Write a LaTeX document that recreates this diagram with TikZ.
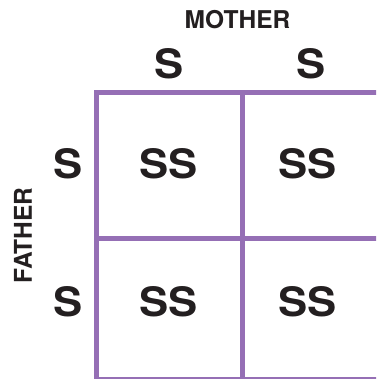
\documentclass[tikz,border=0pt]{standalone}
\usepackage{fontspec}
\setmainfont{TeX Gyre Heros}
\definecolor{gridpurple}{RGB}{149,111,181}
\definecolor{inkblack}{RGB}{35,31,32}
\newcommand{\widetxt}[1]{\scalebox{1.08}[1]{#1}}
\begin{document}
\begin{tikzpicture}[x=1pt,y=-1pt,
  gridline/.style={draw=gridpurple,line width=5pt},
  bigtext/.style={text=inkblack,font=\bfseries\fontsize{40.5}{40.5}\selectfont,inner sep=0pt,anchor=center},
  labeltext/.style={text=inkblack,font=\bfseries\fontsize{24.5}{24.5}\selectfont,inner sep=0pt,anchor=center}]
\useasboundingbox (0,0) rectangle (376,379);
\begin{scope}
\clip (0,0) rectangle (376,379);
\draw[gridline,line join=miter] (390,93) -- (96,93) -- (96,390);
\draw[gridline] (96,238) -- (390,238);
\draw[gridline] (96,379) -- (390,379);
\draw[gridline] (242,93) -- (242,390);
\end{scope}
\node[labeltext] (mother) at (237.5,19.5) {MOTHER};
\node[labeltext,rotate=90] (father) at (23,235.5) {FATHER};
\node[bigtext] (m1) at (169,63.5) {\widetxt{S}};
\node[bigtext] (m2) at (311.5,63.5) {\widetxt{S}};
\node[bigtext] (f1) at (68,163.5) {\widetxt{S}};
\node[bigtext] (f2) at (68,302) {\widetxt{S}};
\node[bigtext] (c11) at (168.5,163.5) {\widetxt{SS}};
\node[bigtext] (c12) at (307.5,163.5) {\widetxt{SS}};
\node[bigtext] (c21) at (168.5,302) {\widetxt{SS}};
\node[bigtext] (c22) at (307.5,302) {\widetxt{SS}};
\end{tikzpicture}
\end{document}
